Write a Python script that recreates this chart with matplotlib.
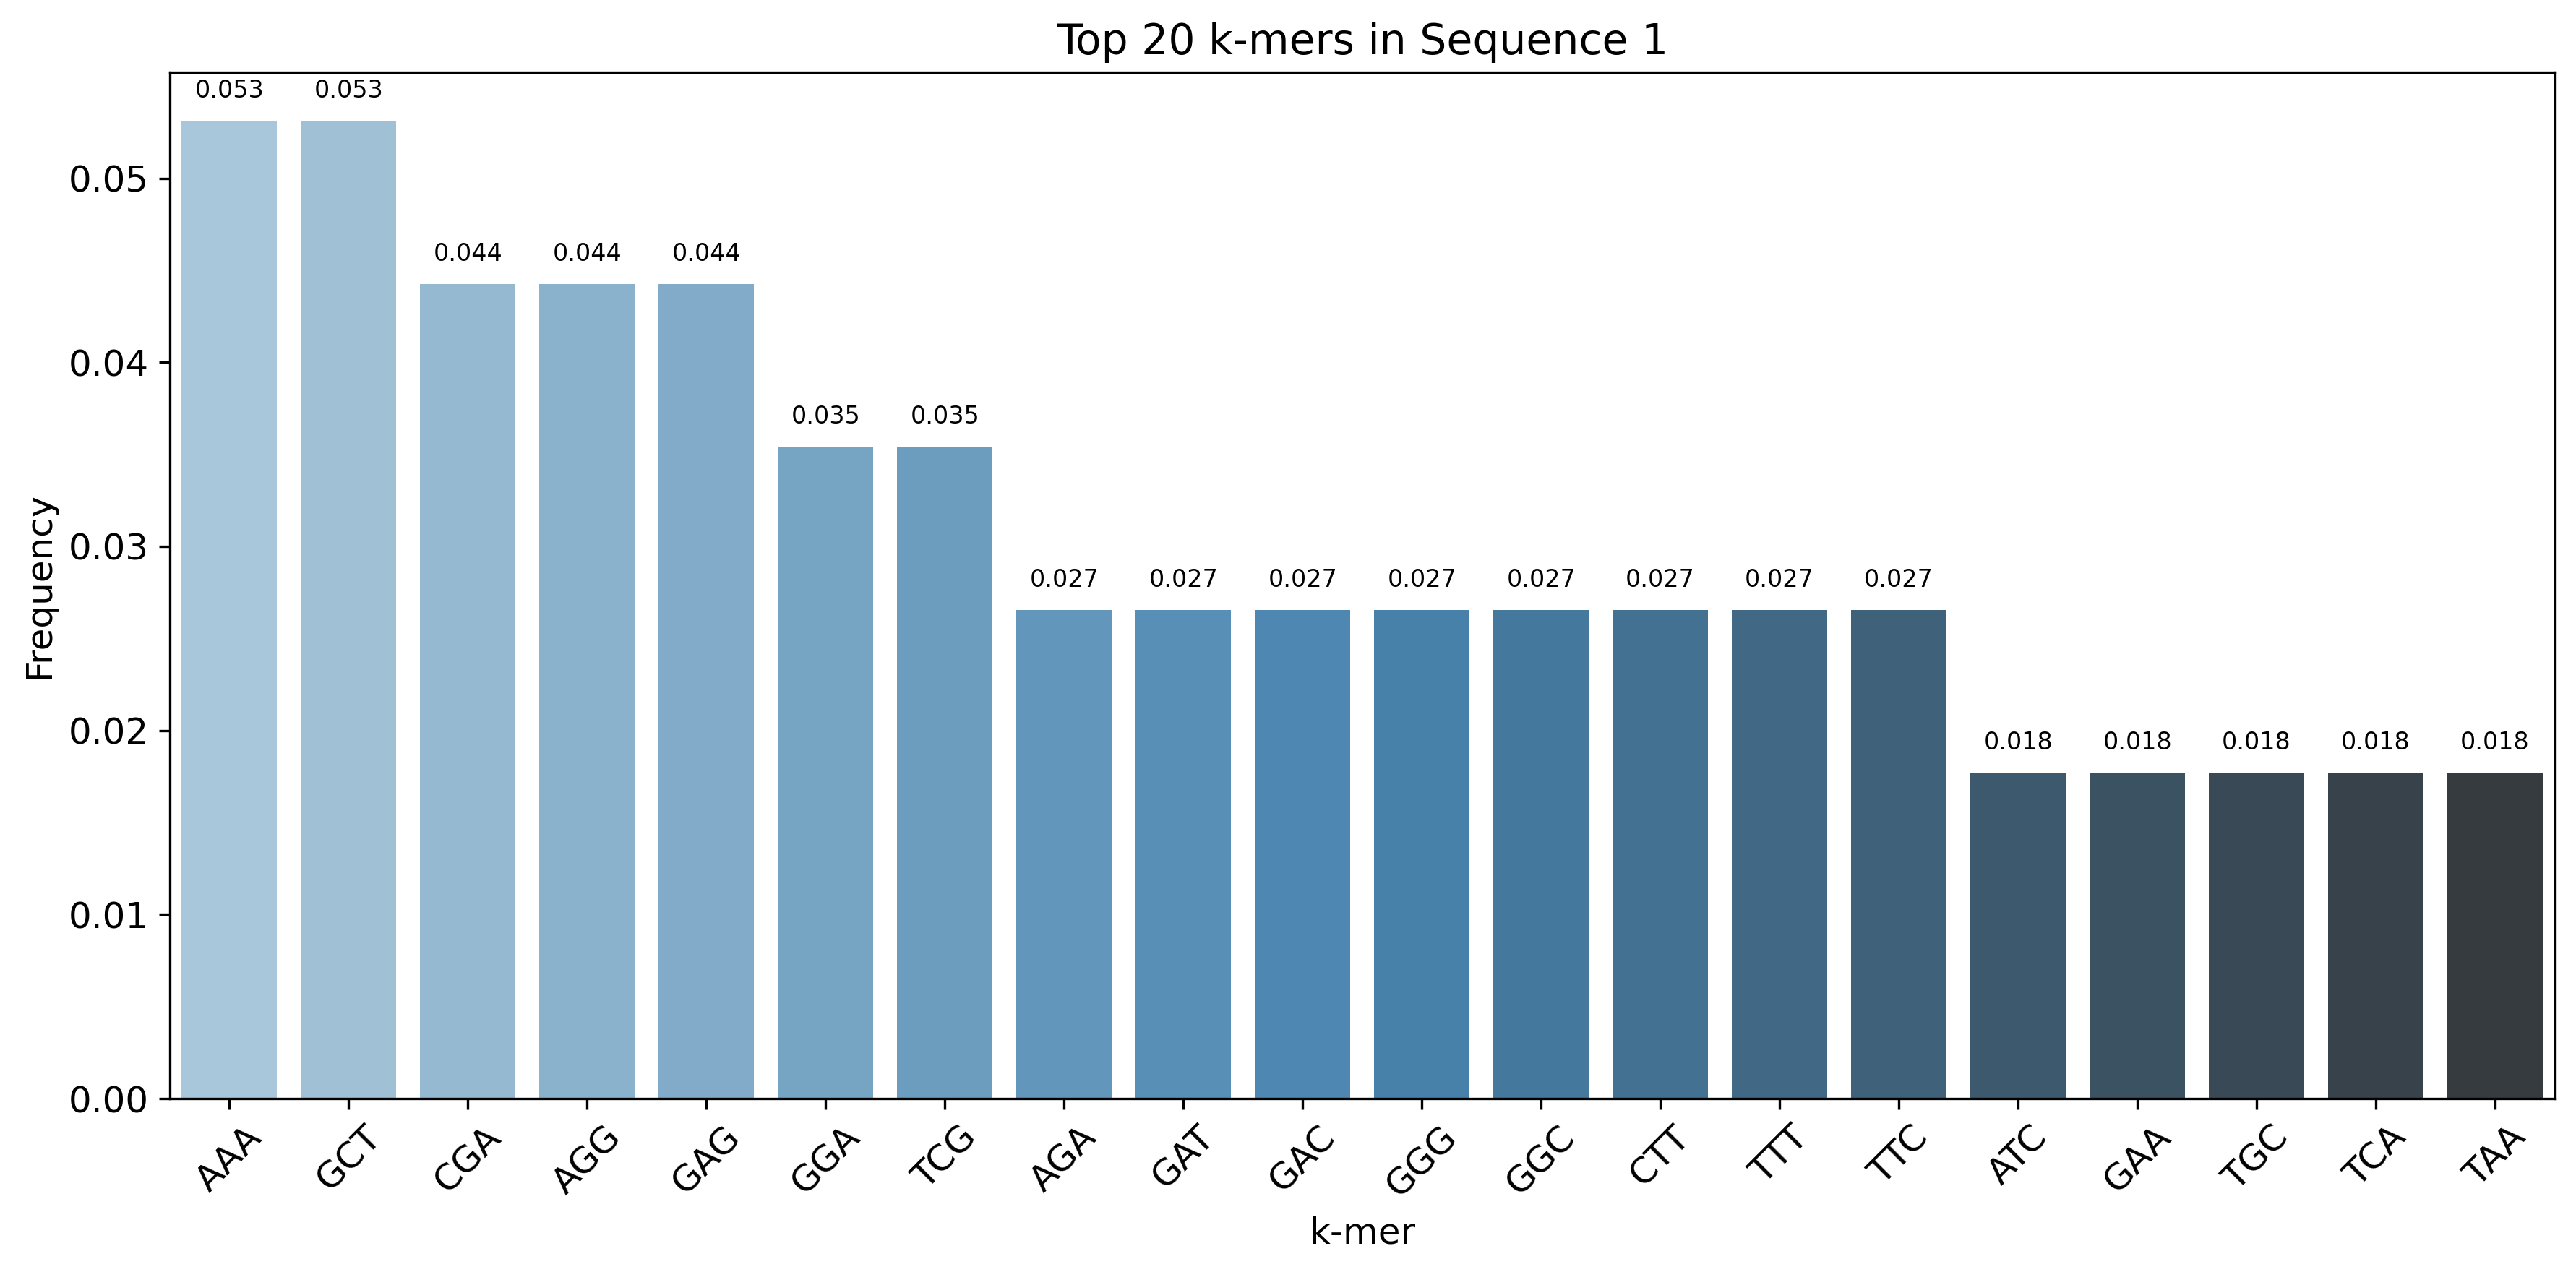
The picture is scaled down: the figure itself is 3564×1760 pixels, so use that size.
import matplotlib
matplotlib.use("Agg")
import matplotlib.pyplot as plt
import seaborn as sns

kmers = ['AAA', 'GCT', 'CGA', 'AGG', 'GAG', 'GGA', 'TCG', 'AGA', 'GAT', 'GAC',
         'GGG', 'GGC', 'CTT', 'TTT', 'TTC', 'ATC', 'GAA', 'TGC', 'TCA', 'TAA']
freqs = [0.05310, 0.05310, 0.04425, 0.04425, 0.04425, 0.03540, 0.03540,
         0.02655, 0.02655, 0.02655, 0.02655, 0.02655, 0.02655, 0.02655, 0.02655,
         0.01770, 0.01770, 0.01770, 0.01770, 0.01770]

fig, ax = plt.subplots(figsize=(12, 6))
sns.barplot(x=kmers, y=freqs, hue=kmers, palette="Blues_d", legend=False, ax=ax)

for p in ax.patches:
    h = p.get_height()
    ax.annotate(format(h, '.3f'), (p.get_x() + p.get_width() / 2., h),
                ha='center', va='center', xytext=(0, 10),
                textcoords='offset points', fontsize=8)

ax.set_title('Top 20 k-mers in Sequence 1', fontsize=14)
ax.set_xlabel('k-mer', fontsize=12)
ax.set_ylabel('Frequency', fontsize=12)
plt.xticks(rotation=45, fontsize=12)
plt.yticks(fontsize=12)
plt.tight_layout()
plt.savefig('out.png', dpi=300, bbox_inches='tight')
